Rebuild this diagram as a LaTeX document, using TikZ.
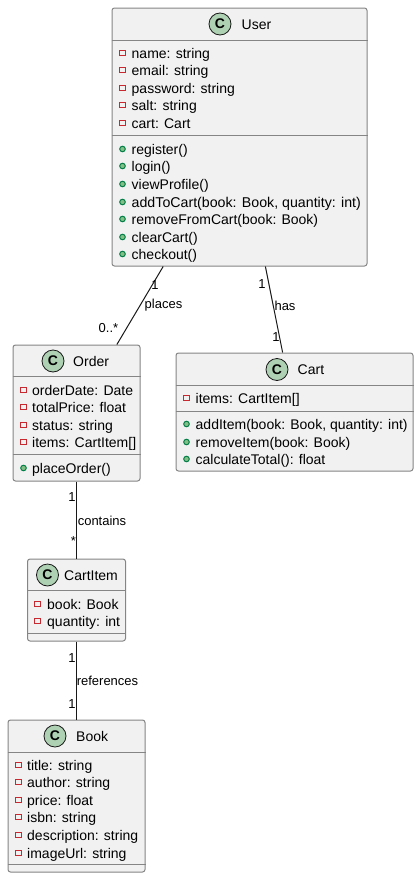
\documentclass[tikz,border=0pt]{standalone}
\usepackage{fontspec}
\setmainfont{Liberation Sans}
\definecolor{boxfill}{HTML}{F1F1F1}
\definecolor{boxline}{HTML}{858585}
\definecolor{spotfill}{HTML}{ADD1B2}
\definecolor{privred}{HTML}{C82930}
\definecolor{pubgreen}{HTML}{84BE84}
\definecolor{publine}{HTML}{038048}
\definecolor{inkline}{HTML}{181818}
\tikzset{
  classbox/.style = {draw = boxline, fill = boxfill, line width = 1pt, rounded corners = 2.5pt, inner sep = 0pt},
  spot/.style = {circle, draw = inkline, fill = spotfill, line width = .8pt, minimum size = 22pt, inner sep = 0pt, font = \fontsize{14}{14}\selectfont\bfseries},
  classname/.style = {anchor = mid west, inner sep = 0pt, yshift = -2.5pt, font = \fontsize{14}{14}\selectfont},
  member/.style = {anchor = mid west, inner sep = 0pt, yshift = -2.5pt, font = \fontsize{14}{14}\selectfont},
  privmark/.style = {draw = privred, line width = 1pt, minimum size = 5.8pt, inner sep = 0pt},
  pubmark/.style = {circle, draw = publine, fill = pubgreen, line width = 1pt, minimum size = 5.6pt, inner sep = 0pt},
  relation/.style = {draw = inkline, line width = 1pt},
  rellabel/.style = {inner sep = 0pt, yshift = -.5pt, font = \fontsize{13}{13}\selectfont},
  divider/.style = {draw = boxline, line width = 1pt}
}
\begin{document}
\begin{tikzpicture}[x = 1pt, y = -1pt]
        \useasboundingbox (0,0) rectangle (419,878);
        % class boxes
        \node[classbox, minimum width = 255pt, minimum height = 258pt] (user) at (239.5,137) {};
        \node[classbox, minimum width = 127pt, minimum height = 136pt] (order) at (76.5,413) {};
        \node[classbox, minimum width = 237pt, minimum height = 118pt] (cart) at (294.5,412) {};
        \node[classbox, minimum width = 98pt, minimum height = 82pt] (cartitem) at (76.5,600) {};
        \node[classbox, minimum width = 137pt, minimum height = 152pt] (book) at (76.5,796) {};
        % relations
        \draw[relation] (user) -- (order);
        \draw[relation] (user) -- (cart);
        \draw[relation] (order) -- (cartitem);
        \draw[relation] (cartitem) -- (book);
        % headers
        \node[spot] (userspot) at (220,24) {C};
        \node[classname] (username) at (241.5,24) {User};
        \node[spot] (orderspot) at (53,361) {C};
        \node[classname] (ordername) at (73,361) {Order};
        \node[spot] (cartspot) at (277,369.5) {C};
        \node[classname] (cartname) at (297.5,369.5) {Cart};
        \node[spot] (cartitemspot) at (47.5,575) {C};
        \node[classname] (cartitemname) at (64,575) {CartItem};
        \node[spot] (bookspot) at (55,736) {C};
        \node[classname] (bookname) at (76,736) {Book};
        % dividers
        \draw[divider] (user.west |- 0,40) -- (user.east |- 0,40);
        \draw[divider] (user.west |- 0,135) -- (user.east |- 0,135);
        \draw[divider] (order.west |- 0,376.5) -- (order.east |- 0,376.5);
        \draw[divider] (order.west |- 0,454) -- (order.east |- 0,454);
        \draw[divider] (cart.west |- 0,385.5) -- (cart.east |- 0,385.5);
        \draw[divider] (cart.west |- 0,411) -- (cart.east |- 0,411);
        \draw[divider] (cartitem.west |- 0,590.5) -- (cartitem.east |- 0,590.5);
        \draw[divider] (cartitem.west |- 0,633.5) -- (cartitem.east |- 0,633.5);
        \draw[divider] (book.west |- 0,752) -- (book.east |- 0,752);
        \draw[divider] (book.west |- 0,864) -- (book.east |- 0,864);
        % members
        \foreach \y/\txt [count=\i] in {53/{name: string}, 70/{email: string}, 88/{password: string}, 105/{salt: string}, 123/{cart: Cart}} {
          \node[privmark] (userpriv\i) at (122.5,\y) {};
          \node[member] (userfield\i) at (131.5,\y) {\txt};
        }
        \foreach \y/\txt [count=\i] in {149/{register()}, 166/{login()}, 184/{viewProfile()}, 202/{\fontsize{14.2}{14}\selectfont addToCart(book: Book, quantity: int)}, 219/{removeFromCart(book: Book)}, 237/{clearCart()}, 254/{checkout()}} {
          \node[pubmark] (userpub\i) at (122.5,\y) {};
          \node[member] (usermethod\i) at (131.5,\y) {\txt};
        }
        \foreach \y/\txt [count=\i] in {390/{orderDate: Date}, 407/{totalPrice: float}, 425/{status: string}, 442/{items: CartItem[]}} {
          \node[privmark] (orderpriv\i) at (23.5,\y) {};
          \node[member] (orderfield\i) at (32,\y) {\txt};
        }
        \node[pubmark] (orderpub) at (23.5,468) {};
        \node[member] (ordermethod) at (32,468) {placeOrder()};
        \node[privmark] (cartpriv) at (186.5,398) {};
        \node[member] (cartfield) at (195.5,398) {items: CartItem[]};
        \foreach \y/\txt [count=\i] in {424/{addItem(book: Book, quantity: int)}, 442/{removeItem(book: Book)}, 459/{calculateTotal(): float}} {
          \node[pubmark] (cartpub\i) at (186.5,\y) {};
          \node[member] (cartmethod\i) at (195.5,\y) {\txt};
        }
        \foreach \y/\txt [count=\i] in {604/{book: Book}, 621/{quantity: int}} {
          \node[privmark] (cartitempriv\i) at (37.5,\y) {};
          \node[member] (cartitemfield\i) at (47,\y) {\txt};
        }
        \foreach \y/\txt [count=\i] in {765/{title: string}, 782/{author: string}, 800/{price: float}, 817/{isbn: string}, 835/{description: string}, 853/{imageUrl: string}} {
          \node[privmark] (bookpriv\i) at (18.5,\y) {};
          \node[member] (bookfield\i) at (27,\y) {\txt};
        }
        % relation labels
        \node[rellabel] (placesfrom) at (155,285) {1};
        \node[rellabel] (placeslabel) at (163.5,305) {places};
        \node[rellabel] (placesto) at (108.5,328) {0..*};
        \node[rellabel] (hasfrom) at (262,284) {1};
        \node[rellabel] (haslabel) at (285,305) {has};
        \node[rellabel] (hasto) at (276,337) {1};
        \node[rellabel] (containsfrom) at (72,497) {1};
        \node[rellabel] (containslabel) at (102,520) {contains};
        \node[rellabel] (containsto) at (73.5,541) {*};
        \node[rellabel] (refsfrom) at (72,658) {1};
        \node[rellabel] (refslabel) at (107.5,680.5) {references};
        \node[rellabel] (refsto) at (72,703.5) {1};
    \end{tikzpicture}
\end{document}
